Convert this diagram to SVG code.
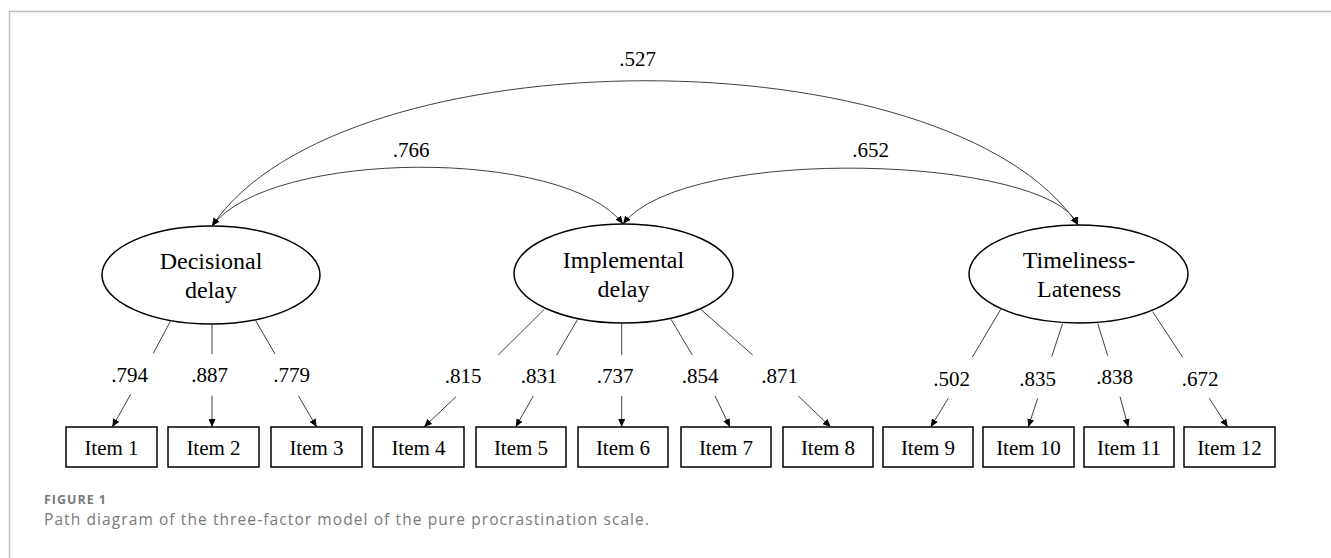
<svg xmlns="http://www.w3.org/2000/svg" width="1331" height="558" viewBox="0 0 1331 558">
<style>
.bg{fill:#ffffff}
.frame{fill:none;stroke:#bfbfbf;stroke-width:1.5}
.lat{fill:#ffffff;stroke:#000000;stroke-width:1.5}
.box{fill:#ffffff;stroke:#000000;stroke-width:1.5}
.ln{fill:none;stroke:#404040;stroke-width:1}
.arr{fill:none;stroke:#404040;stroke-width:1;marker-end:url(#ah)}
.cov{fill:none;stroke:#404040;stroke-width:1;marker-start:url(#ah);marker-end:url(#ah)}
.t24{font-family:"Liberation Serif","Times New Roman",serif;font-size:24px;fill:#000;text-anchor:middle}
.t21{font-family:"Liberation Serif","Times New Roman",serif;font-size:21px;fill:#000;text-anchor:middle}
.cap1{font-family:"Open Sans","Noto Sans",sans-serif;font-size:12.5px;font-weight:700;fill:#7a7a7a}
.cap2{font-family:"Open Sans","Noto Sans",sans-serif;font-size:15.5px;fill:#7a7a7a}
</style>
<defs>
<marker id="ah" viewBox="0 0 8 7" refX="8" refY="3.5" markerWidth="8" markerHeight="7" markerUnits="userSpaceOnUse" orient="auto-start-reverse">
<path d="M0,0 L8,3.5 L0,7 z" fill="#000"/>
</marker>
</defs>
<rect class="bg" x="0" y="0" width="1331" height="558"/>
<path class="frame" d="M9.5,558 L9.5,11.5 L1331,11.5"/>

<g id="connectors">
<path class="cov" d="M212,226 C342,33 948,32 1078,225"/>
<path class="cov" d="M212,226 C270,149 565,147 623,224"/>
<path class="cov" d="M623,224 C685,143 1050,156 1078,225"/>

<line class="ln" x1="170.7" y1="320.7" x2="153.3" y2="353.3"/>
<line class="arr" x1="130.7" y1="394.3" x2="112.3" y2="427"/>
<line class="ln" x1="212" y1="322" x2="212" y2="354"/>
<line class="arr" x1="212" y1="395.7" x2="212" y2="427"/>
<line class="ln" x1="255.7" y1="320.7" x2="275" y2="354"/>
<line class="arr" x1="298.3" y1="395.7" x2="316.7" y2="427"/>

<line class="ln" x1="544.3" y1="309.3" x2="498.3" y2="355"/>
<line class="arr" x1="456" y1="396.7" x2="424" y2="427"/>
<line class="ln" x1="577.7" y1="319.3" x2="556.7" y2="355"/>
<line class="arr" x1="533.3" y1="396" x2="515.7" y2="427"/>
<line class="ln" x1="621.7" y1="322" x2="621.7" y2="355"/>
<line class="arr" x1="621.7" y1="396" x2="621.7" y2="427"/>
<line class="ln" x1="671" y1="319.3" x2="692.3" y2="355"/>
<line class="arr" x1="715" y1="396" x2="730" y2="427"/>
<line class="ln" x1="700.7" y1="309.3" x2="752.7" y2="355"/>
<line class="arr" x1="798.3" y1="396" x2="830.7" y2="427"/>

<line class="ln" x1="1000.7" y1="309.3" x2="972.3" y2="357.3"/>
<line class="arr" x1="948.3" y1="398.3" x2="930.7" y2="427"/>
<line class="ln" x1="1062.7" y1="323.3" x2="1051.7" y2="356.7"/>
<line class="arr" x1="1037.7" y1="398.3" x2="1028.3" y2="427"/>
<line class="ln" x1="1097.7" y1="323.3" x2="1107.7" y2="355.7"/>
<line class="arr" x1="1120" y1="396.7" x2="1128.3" y2="427"/>
<line class="ln" x1="1152.7" y1="311.7" x2="1182.7" y2="357.3"/>
<line class="arr" x1="1209.3" y1="398.3" x2="1227.7" y2="427"/>
</g>

<g id="connector-labels">
<text class="t21" x="637.5" y="66">.527</text>
<text class="t21" x="411" y="157">.766</text>
<text class="t21" x="870.5" y="157">.652</text>
<text class="t21" x="129.5" y="382">.794</text>
<text class="t21" x="209.5" y="382">.887</text>
<text class="t21" x="291.5" y="382">.779</text>
<text class="t21" x="463" y="383">.815</text>
<text class="t21" x="539" y="383">.831</text>
<text class="t21" x="615" y="383">.737</text>
<text class="t21" x="700" y="383">.854</text>
<text class="t21" x="779.5" y="383">.871</text>
<text class="t21" x="951.5" y="386">.502</text>
<text class="t21" x="1037.5" y="386">.835</text>
<text class="t21" x="1114.5" y="384">.838</text>
<text class="t21" x="1200" y="386">.672</text>
</g>

<g id="decisional-delay">
<ellipse class="lat" cx="211" cy="275" rx="109" ry="49"/>
<text class="t24" x="211" y="269">Decisional</text>
<text class="t24" x="211" y="298">delay</text>
</g>
<g id="implemental-delay">
<ellipse class="lat" cx="623.5" cy="273.5" rx="109.5" ry="49.5"/>
<text class="t24" x="623.5" y="268">Implemental</text>
<text class="t24" x="623.5" y="297">delay</text>
</g>
<g id="timeliness-lateness">
<ellipse class="lat" cx="1078.5" cy="274" rx="109.5" ry="49"/>
<text class="t24" x="1079" y="268">Timeliness-</text>
<text class="t24" x="1079" y="297">Lateness</text>
</g>

<g id="item1"><rect class="box" x="66" y="427" width="91" height="40"/><text class="t21" x="111.5" y="455">Item 1</text></g>
<g id="item2"><rect class="box" x="168" y="427" width="91" height="40"/><text class="t21" x="213.5" y="455">Item 2</text></g>
<g id="item3"><rect class="box" x="271" y="427" width="91" height="40"/><text class="t21" x="316.5" y="455">Item 3</text></g>
<g id="item4"><rect class="box" x="373" y="427" width="91" height="40"/><text class="t21" x="418.5" y="455">Item 4</text></g>
<g id="item5"><rect class="box" x="476" y="427" width="90" height="40"/><text class="t21" x="521" y="455">Item 5</text></g>
<g id="item6"><rect class="box" x="578" y="427" width="90" height="40"/><text class="t21" x="623" y="455">Item 6</text></g>
<g id="item7"><rect class="box" x="681" y="427" width="90" height="40"/><text class="t21" x="726" y="455">Item 7</text></g>
<g id="item8"><rect class="box" x="783" y="427" width="90" height="40"/><text class="t21" x="828" y="455">Item 8</text></g>
<g id="item9"><rect class="box" x="883" y="427" width="90" height="40"/><text class="t21" x="928" y="455">Item 9</text></g>
<g id="item10"><rect class="box" x="983" y="427" width="91" height="40"/><text class="t21" x="1028.5" y="455">Item 10</text></g>
<g id="item11"><rect class="box" x="1084" y="427" width="90" height="40"/><text class="t21" x="1129" y="455">Item 11</text></g>
<g id="item12"><rect class="box" x="1184" y="427" width="91" height="40"/><text class="t21" x="1229.5" y="455">Item 12</text></g>

<g id="caption">
<text class="cap1" x="44" y="504" textLength="62" lengthAdjust="spacing">FIGURE 1</text>
<text class="cap2" x="44" y="524.5" textLength="605" lengthAdjust="spacing">Path diagram of the three-factor model of the pure procrastination scale.</text>
</g>
</svg>
